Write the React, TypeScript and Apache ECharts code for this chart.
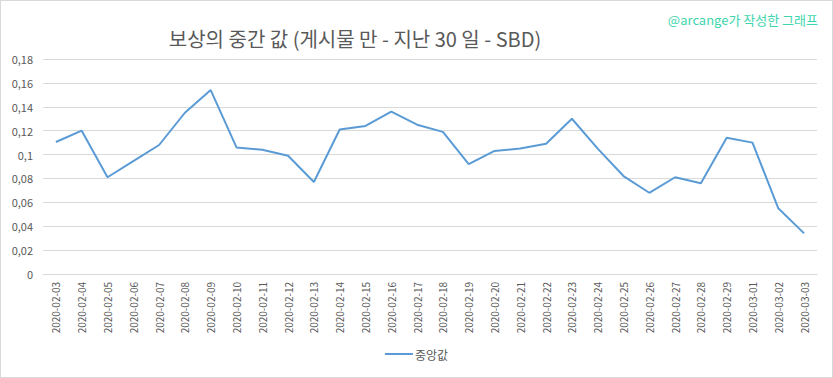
import React, { useEffect, useRef } from "react";
import * as echarts from "echarts";

const categories = [
  "2020-02-03", "2020-02-04", "2020-02-05", "2020-02-06", "2020-02-07",
  "2020-02-08", "2020-02-09", "2020-02-10", "2020-02-11", "2020-02-12",
  "2020-02-13", "2020-02-14", "2020-02-15", "2020-02-16", "2020-02-17",
  "2020-02-18", "2020-02-19", "2020-02-20", "2020-02-21", "2020-02-22",
  "2020-02-23", "2020-02-24", "2020-02-25", "2020-02-26", "2020-02-27",
  "2020-02-28", "2020-02-29", "2020-03-01", "2020-03-02", "2020-03-03",
];

const medianValues = [
  0.1105, 0.120, 0.081, 0.0945, 0.108,
  0.135, 0.154, 0.106, 0.104, 0.099,
  0.077, 0.121, 0.124, 0.136, 0.125,
  0.119, 0.092, 0.103, 0.105, 0.109,
  0.130, 0.105, 0.082, 0.068, 0.081,
  0.076, 0.114, 0.110, 0.055, 0.034,
];

const seriesName = "중앙값";
const titleText = "보상의 중간 값 (게시물 만 - 지난 30 일 - SBD)";
const watermarkText = "@arcange가 작성한 그래프";

export default function App() {
  const ref = useRef<HTMLDivElement>(null);
  useEffect(() => {
    if (!ref.current) return;
    const chart = echarts.init(ref.current, null, { renderer: "svg" });
    const font = "'Noto Sans CJK KR', 'Noto Sans', sans-serif";
    chart.setOption({
      animation: false,
      backgroundColor: "#ffffff",
      textStyle: { fontFamily: font },
      title: [
        {
          text: titleText,
          left: 349,
          textAlign: "center",
          top: 22,
          textStyle: { fontSize: 20, fontWeight: "normal", color: "#595959", fontFamily: font },
        },
        {
          text: watermarkText,
          right: 9,
          top: 7,
          textStyle: { fontSize: 13, fontWeight: "normal", color: "#3dd6ae", fontFamily: font },
        },
      ],
      legend: {
        data: [seriesName],
        bottom: 12,
        left: "center",
        itemWidth: 28,
        itemHeight: 2,
        itemGap: 4,
        icon: "rect",
        textStyle: { fontSize: 12, color: "#595959", padding: [0, 0, 0, -3] },
      },
      grid: { left: 42, right: 15, top: 58, bottom: 103 },
      xAxis: {
        type: "category",
        data: categories,
        boundaryGap: true,
        axisLine: { show: true, lineStyle: { color: "#d9d9d9" } },
        axisTick: { show: false },
        axisLabel: {
          rotate: 90,
          interval: 0,
          fontSize: 10,
          color: "#595959",
          margin: 8,
        },
      },
      yAxis: {
        type: "value",
        min: 0,
        max: 0.18,
        interval: 0.02,
        axisLine: { show: false },
        axisTick: { show: false },
        splitLine: { lineStyle: { color: "#d9d9d9", width: 1 } },
        axisLabel: {
          fontSize: 11,
          color: "#595959",
          margin: 10,
          formatter: (v: number) => (v === 0 ? "0" : String(Math.round(v * 100) / 100).replace(".", ",")),
        },
      },
      series: [
        {
          name: seriesName,
          type: "line",
          data: medianValues,
          symbol: "none",
          lineStyle: { color: "#5b9bd5", width: 2 },
          itemStyle: { color: "#5b9bd5" },
        },
      ],
    });
    return () => chart.dispose();
  }, []);
  return (
    <div
      style={{
        position: "fixed",
        left: 0,
        top: 0,
        width: 833,
        height: 378,
        boxSizing: "border-box",
        border: "1px solid #d9d9d9",
        background: "#fff",
      }}
    >
      <div ref={ref} style={{ width: 831, height: 376 }} />
    </div>
  );
}
